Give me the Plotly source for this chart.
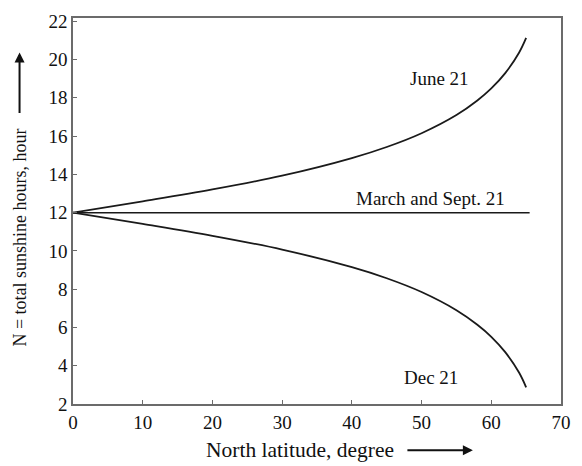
import plotly.graph_objects as go

latitude = [0, 10, 20, 30, 40, 45, 50, 55, 58, 60, 62, 64, 65]
june_21 = [12.0, 12.59, 13.21, 13.93, 14.85, 15.43, 16.15, 17.1, 17.86, 18.49, 19.29, 20.37, 21.13]
dec_21 = [12.0, 11.41, 10.79, 10.07, 9.15, 8.57, 7.85, 6.9, 6.14, 5.51, 4.71, 3.63, 2.87]
equinox_lat = [0, 65.5]
equinox = [12.0, 12.0]

x_ticks = [0, 10, 20, 30, 40, 50, 60, 70]
y_ticks = [2, 4, 6, 8, 10, 12, 14, 16, 18, 20, 22]

FONT = "Liberation Serif, Times New Roman, serif"
LINE = "#1a1a1a"
AXIS = "#6b6b6b"

fig = go.Figure()
fig.add_trace(go.Scatter(x=latitude, y=june_21, mode="lines",
                         line=dict(color=LINE, width=1.8, shape="spline", smoothing=1),
                         showlegend=False))
fig.add_trace(go.Scatter(x=latitude, y=dec_21, mode="lines",
                         line=dict(color=LINE, width=1.8, shape="spline", smoothing=1),
                         showlegend=False))
fig.add_trace(go.Scatter(x=equinox_lat, y=equinox, mode="lines",
                         line=dict(color=LINE, width=1.5), showlegend=False))

L, R, T, B = 73, 16, 11, 62
W, H = 582, 466
pw, ph = W - L - R, H - T - B

def px(xp):
    return (xp - L) / pw

def py(yp):
    return (H - B - yp) / ph

annotations = [
    dict(x=52.6, y=19.0, xref="x", yref="y", text="June 21", showarrow=False,
         font=dict(family=FONT, size=19, color="#111")),
    dict(x=51.3, y=12.75, xref="x", yref="y", text="March and Sept. 21", showarrow=False,
         font=dict(family=FONT, size=19, color="#111")),
    dict(x=51.3, y=3.4, xref="x", yref="y", text="Dec 21", showarrow=False,
         font=dict(family=FONT, size=19, color="#111")),
    dict(x=px(302.5), y=py(451), xref="paper", yref="paper", text="North latitude, degree",
         xanchor="center", yanchor="middle",
         showarrow=False, font=dict(family=FONT, size=21.5, color="#111")),
    dict(x=px(19), y=py(235), xref="paper", yref="paper", text="N = total sunshine hours, hour",
         xanchor="center", yanchor="middle",
         showarrow=False, textangle=-90, font=dict(family=FONT, size=18, color="#111")),
    dict(x=px(477), y=py(451), xref="paper", yref="paper", text="", showarrow=True,
         ax=-67, ay=0, arrowhead=2, arrowsize=1, arrowwidth=2, arrowcolor="#111"),
    dict(x=px(19), y=py(46), xref="paper", yref="paper", text="", showarrow=True,
         ax=0, ay=62, arrowhead=2, arrowsize=1, arrowwidth=2, arrowcolor="#111"),
]

fig.update_layout(
    width=W, height=H,
    margin=dict(l=L, r=R, t=T, b=B),
    paper_bgcolor="white", plot_bgcolor="white",
    font=dict(family=FONT, size=19, color="#111"),
    annotations=annotations,
    xaxis=dict(range=[0, 70], tickvals=x_ticks, ticks="inside", ticklen=4, tickwidth=1.3,
               tickcolor=AXIS, showline=True, linecolor=AXIS, linewidth=1.5, mirror=True,
               showgrid=False, zeroline=False, tickfont=dict(family=FONT, size=19)),
    yaxis=dict(range=[2, 22.17], tickvals=y_ticks, ticks="inside", ticklen=4, tickwidth=1.3,
               tickcolor=AXIS, showline=True, linecolor=AXIS, linewidth=1.5, mirror=True,
               showgrid=False, zeroline=False, tickfont=dict(family=FONT, size=19)),
)

fig.write_html("out.html")
